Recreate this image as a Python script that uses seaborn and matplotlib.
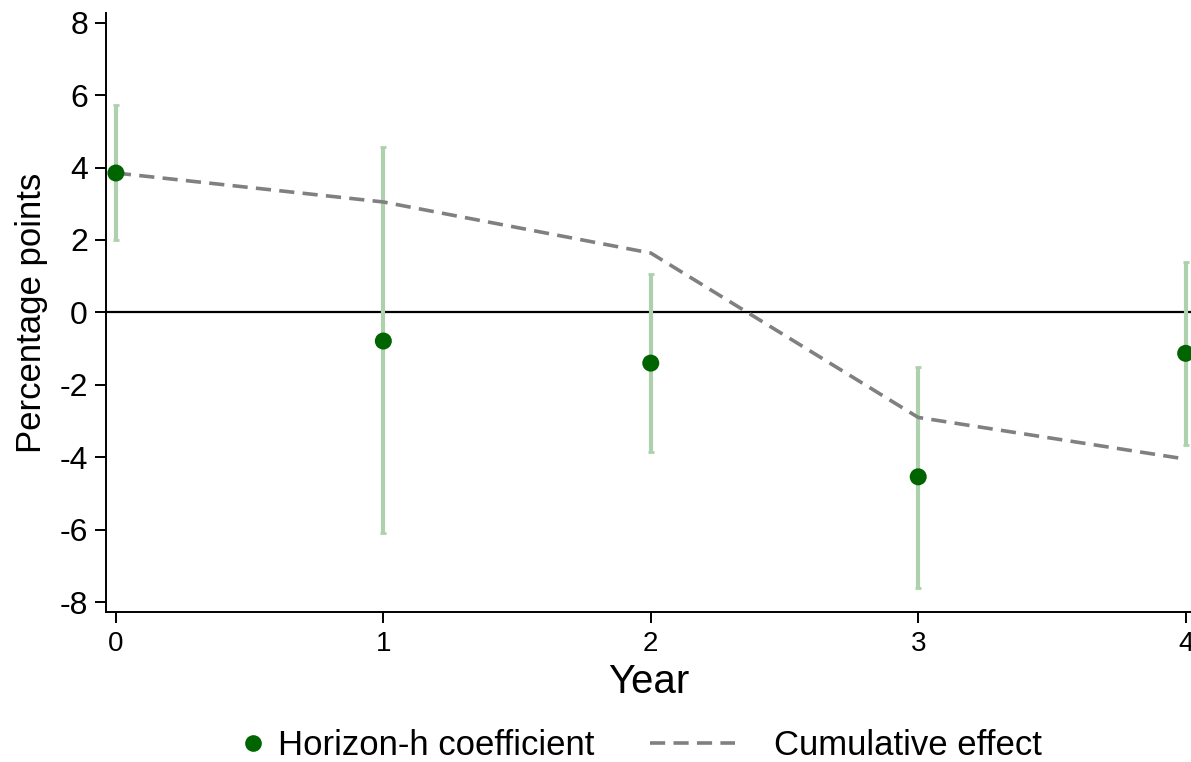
import matplotlib
matplotlib.use("Agg")
import matplotlib.pyplot as plt
import seaborn as sns
import pandas as pd
from matplotlib.lines import Line2D

years = [0, 1, 2, 3, 4]
coef = [3.85, -0.79, -1.40, -4.54, -1.13]
ci_low = [2.00, -6.09, -3.85, -7.60, -3.66]
ci_high = [5.73, 4.57, 1.06, -1.50, 1.40]
cumulative = [3.85, 3.05, 1.64, -2.90, -4.05]
yticks = [-8, -6, -4, -2, 0, 2, 4, 6, 8]
xticks = [0, 1, 2, 3, 4]

sns.set_theme(style="ticks")
plt.rcParams['font.family'] = ['Liberation Sans', 'DejaVu Sans']
plt.rcParams['text.color'] = 'black'
plt.rcParams['axes.labelcolor'] = 'black'

df = pd.DataFrame({"year": years, "coef": coef, "lo": ci_low, "hi": ci_high, "cum": cumulative})

DASH = (0, (4.2, 2.3))

fig = plt.figure(figsize=(11.91, 7.62), dpi=100)
ax = fig.add_axes([0.089, 0.197, 0.911, 0.786])

ax.axhline(0, color="black", lw=1.6, zorder=1)
ax.errorbar(df["year"], df["coef"],
            yerr=[df["coef"] - df["lo"], df["hi"] - df["coef"]],
            fmt="none", ecolor="#acd1ac", elinewidth=3, capsize=2.5, capthick=2, zorder=2)
sns.lineplot(data=df, x="year", y="cum", ax=ax, color="#808080", lw=2.6,
             linestyle=DASH, zorder=3, legend=False)
sns.scatterplot(data=df, x="year", y="coef", ax=ax, color="#006400", s=150,
                edgecolor="none", zorder=4, legend=False)

ax.set_xlim(-0.037, 4.02)
ax.set_ylim(-8.27, 8.27)
ax.set_xticks(xticks)
ax.set_yticks(yticks)
ax.set_yticklabels([str(t) for t in yticks], fontsize=23)
ax.set_xticklabels([str(t) for t in xticks], fontsize=20)
ax.tick_params(axis="both", direction="out", length=8, width=1.4, colors="black")
ax.tick_params(axis="y", pad=5)
ax.tick_params(axis="x", pad=6)
for s in ["top", "right"]:
    ax.spines[s].set_visible(False)
for s in ["left", "bottom"]:
    ax.spines[s].set_linewidth(1.4)
    ax.spines[s].set_color("black")

ax.set_xlabel("Year", fontsize=29, labelpad=4)
ax.set_ylabel("Percentage points", fontsize=25, labelpad=8)

h1 = Line2D([0], [0], marker="o", color="none", markerfacecolor="#006400",
            markeredgecolor="none", markersize=12)
h2 = Line2D([0], [0], color="#808080", lw=2.6, linestyle=DASH)
leg1 = fig.legend([h1], ["Horizon-h coefficient"], loc="center left",
                  bbox_to_anchor=(0.204, 0.021), frameon=False, fontsize=25,
                  handlelength=0.6, handletextpad=0.4, borderpad=0, borderaxespad=0)
leg2 = fig.legend([h2], ["Cumulative effect"], loc="center left",
                  bbox_to_anchor=(0.546, 0.021), frameon=False, fontsize=25,
                  handlelength=2.43, handletextpad=1.14, borderpad=0, borderaxespad=0)

fig.savefig("out.png", dpi=100)
